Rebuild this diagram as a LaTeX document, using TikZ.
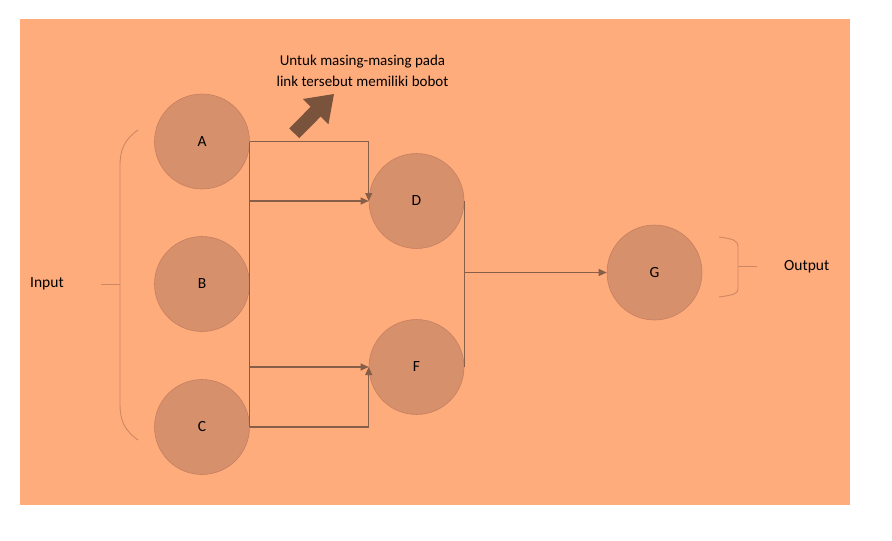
\documentclass[tikz,border=0pt]{standalone}
\usepackage{fontspec}
\setmainfont{Carlito}
\usetikzlibrary{arrows.meta}
\definecolor{bgc}{RGB}{255,172,125}
\definecolor{cfill}{RGB}{214,144,108}
\definecolor{cedge}{RGB}{198,128,94}
\definecolor{linec}{RGB}{135,95,72}
\definecolor{bracec}{RGB}{205,135,98}
\definecolor{bigarr}{RGB}{122,83,60}
\begin{document}
\begin{tikzpicture}[x=1pt,y=-1pt,
  neuron/.style={circle,minimum size=95pt,inner sep=0pt,fill=cfill,draw=cedge,line width=0.6pt,font=\fontsize{15.5}{18}\selectfont},
  conn/.style={draw=linec,line width=1.1pt},
  tip/.style={-{Triangle[width=7pt,length=8pt]}},
  bracel/.style={draw=bracec,line width=0.9pt},
  lbl/.style={font=\fontsize{15.5}{18}\selectfont,inner sep=0pt}]
\useasboundingbox (0,0) rectangle (892,541);
\fill[bgc] (20,19) rectangle (850,505);
% neurons
\node[neuron] (A) at (202,141.5) {A};
\node[neuron] (B) at (202,284) {B};
\node[neuron] (C) at (202,427) {C};
\node[neuron] (D) at (416.5,201) {D};
\node[neuron] (F) at (416.5,367) {F};
\node[neuron] (G) at (654.5,272.5) {G};
% connectors
\draw[conn] (A.east) -- (C.east);
\draw[conn,tip] (A.east) -| (D.west);
\draw[conn,tip] (A.east |- D.west) -- (D.west);
\draw[conn,tip] (A.east |- F.west) -- (F.west);
\draw[conn,tip] (C.east) -| (F.west);
\draw[conn] (D.east) -- (F.east);
\draw[conn,tip] (D.east |- G.west) -- (G.west);
% braces
\draw[bracel] (138,130) .. controls (124,140) and (120,150) .. (120,166) -- (120,404) .. controls (120,420) and (124,430) .. (138,440);
\draw[bracel] (101,284) -- (120,284);
\draw[bracel] (719,237) .. controls (733,239) and (738,240) .. (738,247) -- (738,289) .. controls (738,294) and (733,295) .. (719,297);
\draw[bracel] (738,266) -- (757,266);
% labels
\node[lbl,anchor=west] (inp) at (30,284) {Input};
\node[lbl,anchor=west] (outp) at (784,266.5) {Output};
\node[lbl,align=center,font=\fontsize{15}{21}\selectfont] (note) at (362.5,70.5) {Untuk masing-masing pada\\link tersebut memiliki bobot};
% big arrow
\fill[bigarr] (289.3,128.4) -- (310.6,106.8) -- (302.8,99.0) -- (334,94) -- (328.4,124.4) -- (320.6,116.6) -- (299.3,138.2) -- cycle;
\end{tikzpicture}
\end{document}
